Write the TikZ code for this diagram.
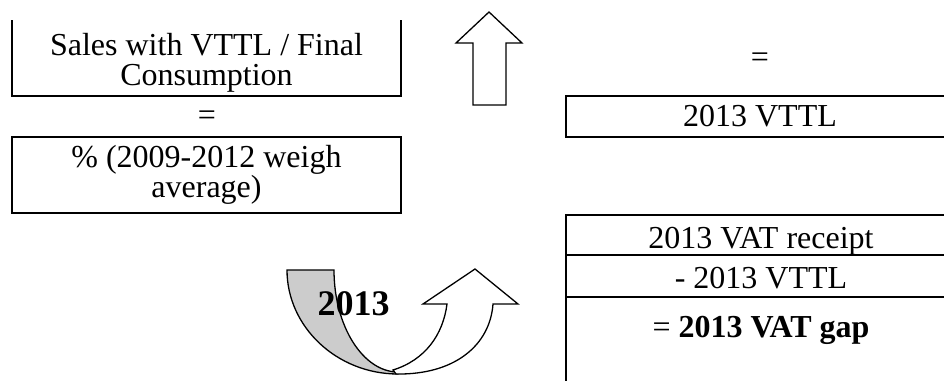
\documentclass[tikz,border=0pt]{standalone}
\usepackage{fontspec}
\setmainfont{Liberation Serif}
\begin{document}
\begin{tikzpicture}[x=1pt,y=-1pt,
  every node/.style={inner sep=0pt, outer sep=0pt, font=\fontsize{32}{30}\selectfont},
  frame/.style={line width=2pt},
  cell/.style={frame, draw, minimum width=388pt},
  label/.style={anchor=base},
  blockarrow/.style={draw, line width=1.3pt, line join=miter, fill=white}]
\useasboundingbox (0,0) rectangle (944,380);
\clip (0,0) rectangle (944,380);

% left column: ratio over the weighted average
\node[align=center] (ratio) at (206.5,62.5) {Sales with VTTL / Final\\Consumption};
\coordinate (ratioTL) at (12,20);
\coordinate (ratioTR) at (401,20);
\draw[frame] (ratioTL) -- (12,96) -- (401,96) -- (ratioTR);
\node (eqLeft) at (207,118) {=};
\node[cell, minimum width=389pt, minimum height=76pt, align=center] (avg) at (206.5,175)
  {\% (2009-2012 weigh\\average)};

% upward block arrow
\draw[blockarrow] (473,105) -- (473,43) -- (456,43) -- (489,12) -- (522,43)
  -- (506,43) -- (506,105) -- cycle;

% right column: resulting VTTL
\node (eqRight) at (760,60) {=};
\node[cell, minimum height=41pt] (vttl) at (760,116.5) {2013 VTTL};

% curved arrow labelled with the year
\draw[line width=1.3pt, fill=black!20] (287,270) -- (334,270)
  .. controls (334,326) and (363,372) .. (398,372)
  -- (398,374) .. controls (337,374) and (287,327) .. (287,270) -- cycle;
\draw[blockarrow] (396,374) .. controls (455,375) and (490,345) .. (493,304)
  -- (518,304) -- (475,269) -- (423,304) -- (447,304)
  .. controls (443,335) and (425,360) .. (393,370) -- cycle;
\node[font=\fontsize{36}{36}\selectfont\bfseries] (year) at (353.5,303.5) {2013};

% table: receipts minus VTTL gives the gap
\coordinate (tabTop) at (566,215);
\coordinate (tabBottom) at (566,382);
\draw[frame] (960,215) -- (tabTop) -- (tabBottom);
\draw[frame] (566,255) -- (960,255);
\draw[frame] (566,297) -- (960,297);
\node[label] (receipt) at (761,248) {2013 VAT receipt};
\node[label] (minus) at (761,288) {- 2013 VTTL};
\node[label] (gap) at (761,337) {= \textbf{2013 VAT gap}};
\end{tikzpicture}
\end{document}
